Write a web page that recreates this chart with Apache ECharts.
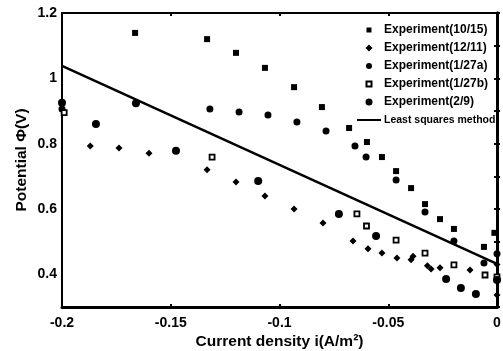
<!DOCTYPE html>
<html>
<head>
<meta charset="utf-8">
<script src="https://cdn.jsdelivr.net/npm/echarts@6/dist/echarts.min.js"></script>
<style>
html, body { margin: 0; padding: 0; background: #fff; }
#main { width: 503px; height: 351px; }
</style>
</head>
<body>
<div id="main"></div>
<script>
// data
var seriesNames = ['Experiment(10/15)', 'Experiment(12/11)', 'Experiment(1/27a)', 'Experiment(1/27b)', 'Experiment(2/9)', 'Least squares method'];

var x1015 = [-0.1664, -0.1333, -0.12, -0.1067, -0.0933, -0.0805, -0.068, -0.0598, -0.0529, -0.0464, -0.0395, -0.0331, -0.0262, -0.0198, -0.006, -0.0012];
var y1015 = [1.139, 1.12, 1.078, 1.032, 0.973, 0.912, 0.848, 0.805, 0.759, 0.716, 0.664, 0.615, 0.569, 0.539, 0.484, 0.527];

var x1211 = [-0.187, -0.1738, -0.16, -0.1333, -0.12, -0.1067, -0.0933, -0.08, -0.0662, -0.0593, -0.0529, -0.046, -0.0395, -0.0386, -0.032, -0.0303, -0.0262, -0.0124, 0, 0];
var y1211 = [0.793, 0.787, 0.771, 0.72, 0.683, 0.64, 0.60, 0.557, 0.502, 0.478, 0.465, 0.45, 0.445, 0.455, 0.426, 0.416, 0.42, 0.413, 0.43, 0.337];

var x127a = [-0.2, -0.132, -0.1186, -0.1053, -0.092, -0.0786, -0.0653, -0.0602, -0.0464, -0.0331, -0.0198, -0.006, 0];
var y127a = [0.906, 0.906, 0.897, 0.888, 0.866, 0.839, 0.793, 0.759, 0.689, 0.591, 0.502, 0.435, 0.463];

var x127b = [-0.199, -0.131, -0.0644, -0.06, -0.0464, -0.0331, -0.0198, -0.0055, 0];
var y127b = [0.895, 0.759, 0.585, 0.548, 0.505, 0.465, 0.429, 0.398, 0.392];

var x29 = [-0.2, -0.1844, -0.166, -0.1476, -0.1098, -0.0727, -0.0556, -0.0234, -0.0166, -0.0097, 0];
var y29 = [0.925, 0.86, 0.924, 0.778, 0.686, 0.585, 0.517, 0.386, 0.358, 0.34, 0.383];

var xFit = [-0.2, 0];
var yFit = [1.038, 0.432];

var yLabels = [0.4, 0.6, 0.8, 1, 1.2];

function pairs(xs, ys) {
	var out = [];
	for (var i = 0; i < xs.length; i++) {
		out.push([xs[i], ys[i]]);
	}
	return out;
}

var font = 'Liberation Sans, Arial, sans-serif';

// legend icons: invisible corners (0,0)-(24,8) keep the marker small and centred
var box = 'M0,0M24,8';
var iconRect = 'path://' + box + 'M9.5,1.5h5v5h-5z';
var iconDiamond = 'path://' + box + 'M12,0.5L15.5,4L12,7.5L8.5,4z';
var iconDot = 'path://' + box + 'M9,4a3,3 0 1,0 6,0a3,3 0 1,0 -6,0z';
var iconBigDot = 'path://' + box + 'M8.5,4a3.5,3.5 0 1,0 7,0a3.5,3.5 0 1,0 -7,0z';
var iconLine = 'path://' + box + 'M0,3h24v2h-24z';

var myChart = echarts.init(document.getElementById('main'));

var axisBlack = { color : '#000', width : 3 };
var tickIn = { inside : true, length : 3, lineStyle : { color : '#000', width : 2 } };

var option = {
	backgroundColor : '#FFFFFF',
	animation : false,
	textStyle : { fontFamily : font },
	grid : {
		left : 62, right : 6, top : 13, bottom : 44,
		outerBoundsMode : 'none', containLabel : false,
		show : true, borderColor : '#000', borderWidth : 2
	},
	legend : {
		orient : 'vertical',
		left : 351, top : 18,
		itemGap : 4, itemWidth : 24, itemHeight : 8,
		textStyle : { fontSize : 12, fontWeight : 'bold', color : '#000', fontFamily : font, lineHeight : 14, padding : [0, 0, 0, -2] },
		data : [
			{ name : seriesNames[0], icon : iconRect },
			{ name : seriesNames[1], icon : iconDiamond },
			{ name : seriesNames[2], icon : iconDot },
			{ name : seriesNames[3], icon : iconRect },
			{ name : seriesNames[4], icon : iconBigDot },
			{ name : seriesNames[5], icon : iconLine, textStyle : { fontSize : 10.5, fontWeight : 'bold' } }
		]
	},
	xAxis : [{
		type : 'value', min : -0.2, max : 0, interval : 0.05,
		name : 'Current density i(A/m²)', nameLocation : 'middle', nameGap : 27,
		nameMoveOverlap : false,
		nameTextStyle : { fontSize : 15.5, fontWeight : 'bold', color : '#000' },
		axisLine : { lineStyle : axisBlack },
		axisTick : tickIn,
		axisLabel : { color : '#000', fontSize : 14, fontWeight : 'bold', margin : 9 },
		splitLine : { show : false }
	}, {
		type : 'value', min : -0.2, max : 0, interval : 0.05, position : 'top',
		axisLine : { lineStyle : { color : '#000', width : 2 } },
		axisTick : tickIn,
		axisLabel : { show : false },
		splitLine : { show : false }
	}],
	yAxis : [{
		type : 'value', min : 0.3, max : 1.2, interval : 0.1,
		name : 'Potential Φ(V)', nameLocation : 'middle', nameGap : 32,
		nameMoveOverlap : false,
		nameTextStyle : { fontSize : 15.5, fontWeight : 'bold', color : '#000' },
		axisLine : { lineStyle : axisBlack },
		axisTick : tickIn,
		axisLabel : {
			color : '#000', fontSize : 14, fontWeight : 'bold', margin : 5,
			formatter : function(v) {
				for (var i = 0; i < yLabels.length; i++) {
					if (Math.abs(v - yLabels[i]) < 1e-6) return String(yLabels[i]);
				}
				return '';
			}
		},
		splitLine : { show : false }
	}, {
		type : 'value', min : 0.3, max : 1.2, interval : 0.1, position : 'right',
		axisLine : { lineStyle : axisBlack },
		axisTick : tickIn,
		axisLabel : { show : false },
		splitLine : { show : false }
	}],
	series : [{
		name : seriesNames[0], type : 'scatter', symbol : 'rect', symbolSize : 6,
		itemStyle : { color : '#000', opacity : 1 }, data : pairs(x1015, y1015)
	}, {
		name : seriesNames[1], type : 'scatter', symbol : 'diamond', symbolSize : 7,
		itemStyle : { color : '#000', opacity : 1 }, data : pairs(x1211, y1211)
	}, {
		name : seriesNames[2], type : 'scatter', symbol : 'circle', symbolSize : 7,
		itemStyle : { color : '#000', opacity : 1 }, data : pairs(x127a, y127a)
	}, {
		name : seriesNames[3], type : 'scatter', symbol : 'rect', symbolSize : 5,
		itemStyle : { color : '#fff', borderColor : '#000', borderWidth : 1.8, opacity : 1 }, data : pairs(x127b, y127b)
	}, {
		name : seriesNames[4], type : 'scatter', symbol : 'circle', symbolSize : 8,
		itemStyle : { color : '#000', opacity : 1 }, data : pairs(x29, y29)
	}, {
		name : seriesNames[5], type : 'line', symbol : 'none',
		lineStyle : { color : '#000', width : 2.5 }, itemStyle : { color : '#000' },
		data : pairs(xFit, yFit)
	}]
};

myChart.setOption(option);
</script>
</body>
</html>
